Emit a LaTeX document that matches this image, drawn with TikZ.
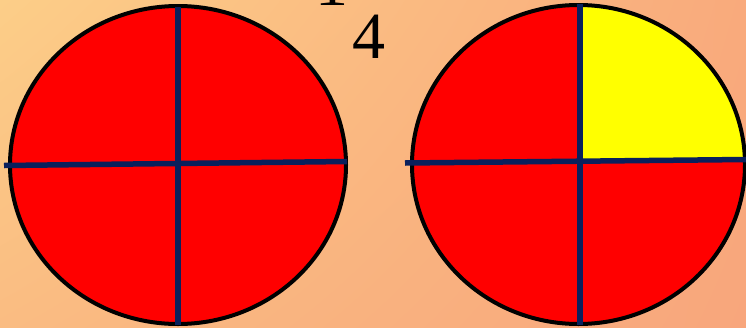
\documentclass[tikz,border=0pt]{standalone}
\usepackage{fontspec}
\setmainfont{Liberation Serif}
\usetikzlibrary{shadings}
\definecolor{bgTL}{RGB}{252,206,136}
\definecolor{bgTR}{RGB}{249,170,124}
\definecolor{bgBL}{RGB}{250,188,130}
\definecolor{bgBR}{RGB}{248,166,124}
\definecolor{navy}{RGB}{10,32,92}
\definecolor{discred}{RGB}{255,0,0}
\definecolor{discyellow}{RGB}{255,255,0}
\begin{document}
\begin{tikzpicture}[x=1pt,y=-1pt,
  outline/.style={draw=black, line width=4pt},
  divider/.style={draw=navy, line width=5.5pt},
  numeral/.style={font=\fontsize{66}{66}\selectfont, anchor=base, inner sep=0pt}]
\useasboundingbox (0,0) rectangle (746,327);
\clip (0,0) rectangle (746,327);
\shade[upper left=bgTL, upper right=bgTR, lower left=bgBL, lower right=bgBR] (0,0) rectangle (746,327);
% text
\node[numeral] (one) at (332,5) {1};
\node[numeral] (four) at (369,58) {4};
% left disc
\coordinate (lc) at (178,165);
\fill[discred] (lc) ellipse [x radius=168pt, y radius=159pt];
\draw[outline] (lc) ellipse [x radius=168pt, y radius=159pt];
\coordinate (lw) at (4,165.5);
\coordinate (le) at (347,161.5);
\coordinate (ln) at (178,7);
\coordinate (ls) at (178,325);
\draw[divider] (lw) -- (le);
\draw[divider] (ln) -- (ls);
% right disc
\coordinate (rc) at (578.5,164.5);
\begin{scope}
  \clip (rc) ellipse [x radius=166.5pt, y radius=159.5pt];
  \fill[discred] (400,0) rectangle (750,330);
  \fill[discyellow] (580,0) rectangle (750,160.5);
\end{scope}
\draw[outline] (rc) ellipse [x radius=166.5pt, y radius=159.5pt];
\coordinate (rw) at (405,163);
\coordinate (re) at (746,159.5);
\coordinate (rn) at (580,4);
\coordinate (rs) at (580,325);
\draw[divider] (rw) -- (re);
\draw[divider] (rn) -- (rs);
\end{tikzpicture}
\end{document}
